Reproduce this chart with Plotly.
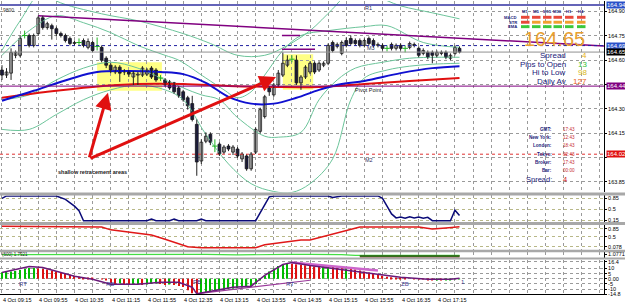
import plotly.graph_objects as go

W, H = 625, 306

# ---------------- price data: 5-minute bars, 4 Oct 09:15 .. 17:40 ----------------
opens = [164.539,164.508,164.520,164.630,164.630,164.752,164.752,164.691,164.764,164.861,
         164.801,164.813,164.794,164.764,164.752,164.734,164.703,164.709,164.721,164.679,
         164.709,164.685,164.679,164.612,164.569,164.527,164.557,164.533,164.527,164.496,
         164.508,164.508,164.514,164.551,164.539,164.490,164.478,164.466,164.460,164.429,
         164.405,164.368,164.332,164.204,163.978,164.100,164.143,164.070,164.082,164.033,
         164.070,164.033,164.052,163.991,164.009,163.930,164.033,164.161,164.252,164.429,
         164.386,164.447,164.508,164.569,164.606,164.600,164.460,164.496,164.527,164.581,
         164.539,164.569,164.581,164.709,164.685,164.642,164.721,164.734,164.721,164.721,
         164.691,164.734,164.721,164.691,164.691,164.673,164.697,164.673,164.691,164.673,
         164.679,164.697,164.673,164.642,164.648,164.648,164.630,164.648,164.648,164.612,
         164.642,164.673]
closes = [164.508,164.527,164.648,164.648,164.734,164.752,164.691,164.752,164.861,164.801,
          164.825,164.794,164.764,164.752,164.721,164.703,164.709,164.709,164.691,164.715,
          164.660,164.685,164.600,164.569,164.539,164.557,164.520,164.527,164.514,164.520,
          164.514,164.551,164.539,164.496,164.478,164.490,164.447,164.429,164.405,164.380,
          164.356,164.319,164.234,163.972,164.094,164.131,164.094,164.070,164.021,164.064,
          164.052,164.064,164.009,164.021,163.930,164.021,164.173,164.295,164.374,164.405,
          164.447,164.520,164.581,164.600,164.606,164.460,164.496,164.557,164.581,164.527,
          164.581,164.581,164.691,164.660,164.697,164.709,164.691,164.703,164.703,164.691,
          164.721,164.703,164.691,164.697,164.673,164.673,164.673,164.691,164.673,164.673,
          164.703,164.691,164.630,164.660,164.618,164.630,164.648,164.642,164.618,164.630,
          164.679,164.650]
highs = [164.569,164.551,164.673,164.660,164.752,164.782,164.764,164.764,164.874,164.874,
         164.837,164.825,164.807,164.776,164.764,164.746,164.721,164.734,164.734,164.734,
         164.721,164.740,164.691,164.624,164.581,164.569,164.569,164.545,164.539,164.533,
         164.527,164.563,164.551,164.563,164.551,164.508,164.490,164.478,164.466,164.441,
         164.417,164.380,164.380,164.234,164.112,164.155,164.155,164.112,164.094,164.076,
         164.082,164.076,164.064,164.033,164.021,164.033,164.185,164.307,164.386,164.441,
         164.460,164.539,164.648,164.630,164.630,164.630,164.508,164.569,164.593,164.593,
         164.593,164.593,164.703,164.721,164.709,164.721,164.740,164.752,164.734,164.734,
         164.734,164.746,164.734,164.709,164.703,164.691,164.709,164.703,164.703,164.691,
         164.715,164.709,164.685,164.673,164.660,164.660,164.660,164.660,164.660,164.642,
         164.691,164.685]
lows = [164.478,164.490,164.478,164.612,164.618,164.734,164.679,164.679,164.752,164.788,
        164.788,164.727,164.746,164.740,164.709,164.691,164.691,164.691,164.679,164.667,
        164.648,164.660,164.587,164.551,164.520,164.514,164.466,164.508,164.496,164.447,
        164.447,164.496,164.502,164.484,164.466,164.472,164.435,164.417,164.393,164.368,
        164.344,164.295,164.222,163.887,163.960,164.088,164.076,164.033,164.009,164.021,
        164.039,164.015,163.997,163.972,163.918,163.918,164.021,164.149,164.240,164.380,
        164.374,164.435,164.496,164.557,164.587,164.447,164.417,164.484,164.514,164.514,
        164.527,164.557,164.569,164.648,164.673,164.630,164.679,164.691,164.691,164.679,
        164.679,164.691,164.679,164.679,164.660,164.654,164.660,164.660,164.660,164.648,
        164.667,164.679,164.618,164.630,164.606,164.581,164.618,164.630,164.606,164.600,
        164.630,164.642]
bars = list(range(len(opens)))

time_label_bars = [0, 8, 16, 24, 32, 40, 48, 56, 64, 72, 80, 88, 96]
time_labels = ["4 Oct 09:15", "4 Oct 09:55", "4 Oct 10:35", "4 Oct 11:15", "4 Oct 11:55",
               "4 Oct 12:35", "4 Oct 13:15", "4 Oct 13:55", "4 Oct 14:35", "4 Oct 15:15",
               "4 Oct 15:55", "4 Oct 16:35", "4 Oct 17:15"]

# moving averages
blue_ma_bars = [0, 7, 15, 21, 28, 35, 40, 45, 50, 55, 60, 65, 70, 75, 80, 88, 95, 101]
blue_ma = [164.350, 164.411, 164.484, 164.527, 164.533, 164.527, 164.514, 164.460, 164.374,
           164.332, 164.332, 164.368, 164.417, 164.453, 164.472, 164.520, 164.551, 164.563]
red_ma_bars = [0, 10, 20, 30, 40, 50, 60, 70, 80, 90, 101]
red_ma = [164.368, 164.405, 164.435, 164.453, 164.453, 164.441, 164.435, 164.435, 164.453,
          164.472, 164.490]

# bollinger-style envelopes
outer_up_bars = [0, 4, 9, 12, 22, 30, 40, 46, 52, 58, 63, 68, 73, 76, 82, 88, 95, 101]
outer_up = [164.660, 164.843, 165.026, 164.965, 164.886, 164.843, 164.764, 164.703, 164.630, 164.630,
            164.691, 164.782, 164.916, 164.995, 164.995, 164.935, 164.892, 164.855]
outer_lo_bars = [0, 6, 12, 18, 24, 30, 36, 40, 45, 50, 55, 60, 64, 68, 73, 77, 80, 85, 90, 95, 101]
outer_lo = [164.173, 164.173, 164.265, 164.356, 164.417, 164.447, 164.417, 164.356, 164.143, 163.960,
            163.838, 163.790, 163.784, 163.838, 163.991, 164.356, 164.490, 164.539, 164.563, 164.575,
            164.581]
inner_up_bars = [0, 6, 12, 18, 24, 30, 36, 39, 45, 49, 52, 55, 58, 62, 66, 72, 80, 85, 93, 101]
inner_up = [164.630, 164.782, 164.874, 164.831, 164.770, 164.691, 164.630, 164.600, 164.490, 164.417,
            164.368, 164.405, 164.508, 164.660, 164.752, 164.782, 164.807, 164.813, 164.709, 164.679]
inner_lo_bars = [0, 6, 12, 18, 24, 30, 36, 40, 44, 48, 52, 58, 61, 66, 70, 74, 78, 84, 90, 96, 101]
inner_lo = [164.356, 164.386, 164.478, 164.551, 164.587, 164.551, 164.478, 164.429, 164.386, 164.356,
            164.246, 164.131, 164.125, 164.155, 164.356, 164.478, 164.551, 164.587, 164.612, 164.618,
            164.618]

# levels
r1_level = 164.94
ask_level = 164.69
bid_level = 164.65
pivot_level = 164.44
m2_level = 164.02
trend_bars = [8, 132.9]
trend_prices = [164.874, 164.688]
mark_bars = [[61.8, 65.8], [61.8, 69.1]]
mark_prices = [164.752, 164.667]

# retracement zones and arrows
zone_x0 = [21.0, 62.0]
zone_x1 = [35.3, 68.7]
zone_lo = [164.411, 164.417]
zone_hi = [164.587, 164.636]
arrow_tail = (19.2, 163.991)
arrow_tips = [(23.4, 164.399), (60.5, 164.496)]

# main price scale
price_ticks = [163.85, 164.00, 164.15, 164.30, 164.45, 164.60, 164.75, 164.90]
price_tick_text = ["163.85", "", "164.15", "164.30", "", "164.60", "164.75", "164.90"]

# indicator 1 (navy)
ind1_bars = [0, 1, 12, 14, 16, 17, 18, 32, 33, 34, 37, 38, 39, 43, 44, 45, 56, 57, 58, 59, 60,
             72, 73, 75, 83, 84, 85, 86, 87, 88, 89, 90, 91, 92, 93, 94, 95, 99, 100, 101]
ind1 = [0.85, 0.93, 0.93, 0.82, 0.60, 0.45, 0.13, 0.13, 0.18, 0.13, 0.13, 0.18, 0.13, 0.13, 0.18,
        0.13, 0.13, 0.40, 0.65, 0.90, 0.93, 0.93, 0.88, 0.93, 0.93, 0.85, 0.60, 0.35, 0.22, 0.25,
        0.21, 0.26, 0.22, 0.25, 0.21, 0.24, 0.13, 0.13, 0.47, 0.30]
# indicator 2 (red)
ind2_bars = [0, 22, 24, 33, 36, 41, 44, 56, 58, 66, 68, 79, 92, 95, 98, 101]
ind2 = [0.95, 0.92, 0.80, 0.58, 0.40, 0.08, 0.04, 0.04, 0.16, 0.37, 0.37, 0.92, 0.92, 0.84, 0.88, 0.93]
# indicator 3 (green)
ind3_bars = [0, 20, 30, 40, 45, 52, 58, 63, 68, 75, 78, 101]
ind3 = [1.075, 1.078, 1.082, 1.085, 1.080, 1.070, 1.068, 1.078, 1.080, 1.076, 1.060, 1.060]
ind3b_bars = [79, 101]
ind3b = [1.05, 1.05]
ind3c = [1.035, 1.035]
# indicator 4 (histogram + lines)
hist = [6, 6.5, 7, 7.5, 8.5, 9.5, 10.5,
        10.5, 10, 9.5, 9, 8, 7, 6, 5, 4, 3,
        2, 1.5, 1, 0.5, 0, -0.5, -1,
        -4, -5, -4.5, -5, -6, -5.5, -5, -6, -5.5, -5, -4.5, -5, -6, -5.5, -6, -7, -8,
        -11, -14, -15.5,
        -14, -13, -12, -11.5, -11, -10.5, -10, -9.5, -9, -8.5, -8, -7, -5,
        -1, 3, 7, 10, 12.5, 14, 15,
        14.5, 14, 13.5, 13, 12.5,
        12, 11.5, 11.8, 12.2, 11.6, 11, 10.5, 10.8, 10, 9, 8, 7, 6, 5, 4,
        3, 2, 1.5, 1, 0.5, 0.3, 0, -0.3, -0.5, -0.6, -0.8, -1, -1, -1.2, -1, -0.8, -0.6, -0.5]
ind4_bars = [0, 6, 9, 16, 20, 24, 30, 35, 39, 42, 43, 51, 55, 58, 62, 64, 68, 83, 88, 94, 99, 101]
ind4 = [6.2, 11.9, 11.0, 2.4, -0.5, -5.2, -5.2, -3.3, -3.3, -8.1, -14.5, -8.1, -7.1, 3.3, 13.8,
        15.7, 12.9, 4.3, 1.4, -0.5, -0.5, 0.5]
ind4_line_bars = [43, 68]
ind4_line = [-14.5, -1.4]
ind4_sig_bars = [64, 83]
ind4_sig = [15.7, 8.1]
ind4_labels = ["RT", "RB", "RB", "RT", "ZB", "1"]
ind4_label_bars = [4.6, 23.8, 43.0, 63.5, 88.9, 101.8]
ind4_label_vals = [-5.2, -5.2, -3.3, -5.2, -5.2, -3.3]

# dashboard
tf_names = ["M1", "M5", "M15", "M30", "H1", "H4"]
sig_rows = ["MACD", "STR", "EMA"]
sig_state = [["dn", "dn", "dn", "dn", "dn", "dn"],
             ["dn", "mid", "mid", "mid", "mid", "mid"],
             ["up", "up", "up", "up", "up", "up"]]
price_now = "164.65"
stat_names = ["Spread", "Pips to Open", "Hi to Low", "Daily Av"]
stat_values = ["4", "13", "98", "127"]
clock_names = ["GMT:", "New York:", "London:", "Tokyo:", "Broker:", "Bar:"]
clock_values = ["17:43", "12:43", "18:43", "02:43", "17:43", "00:00"]

# ---------------- figure ----------------
FONT = "Liberation Sans"
XD = 604 / W
NAVY = "#22227a"


def pxx(x):
    return x / W


def pxy(y):
    return (H - y) / H


fig = go.Figure()

# envelopes
for bx, by in [(outer_up_bars, outer_up), (outer_lo_bars, outer_lo),
               (inner_up_bars, inner_up), (inner_lo_bars, inner_lo)]:
    fig.add_trace(go.Scatter(x=bx, y=by, mode="lines", line=dict(color="#6cc49a", width=1, shape="spline"),
                             yaxis="y", hoverinfo="skip"))

# moving averages
fig.add_trace(go.Scatter(x=red_ma_bars, y=red_ma, mode="lines",
                         line=dict(color="#e01010", width=2, shape="spline"), yaxis="y"))
fig.add_trace(go.Scatter(x=blue_ma_bars, y=blue_ma, mode="lines",
                         line=dict(color="#1010d0", width=2, shape="spline"), yaxis="y"))

# trend line & marks
fig.add_trace(go.Scatter(x=trend_bars, y=trend_prices, mode="lines",
                         line=dict(color="#800080", width=1.5), yaxis="y"))
for bx, p in zip(mark_bars, mark_prices):
    fig.add_trace(go.Scatter(x=bx, y=[p, p], mode="lines", line=dict(color="#800080", width=1.5), yaxis="y"))

# candles
bull = [i for i in bars if closes[i] > opens[i]]
bear = [i for i in bars if closes[i] < opens[i]]
doji = [i for i in bars if closes[i] == opens[i]]


def wick_xy(idx):
    xs, ys = [], []
    for i in idx:
        xs += [i, i, None]
        ys += [highs[i], lows[i], None]
    return xs, ys


wx, wy = wick_xy(bull + bear)
fig.add_trace(go.Scatter(x=wx, y=wy, mode="lines", line=dict(color="#202020", width=1), yaxis="y"))
dx, dy = wick_xy(doji)
fig.add_trace(go.Scatter(x=dx, y=dy, mode="lines", line=dict(color="#22b422", width=1), yaxis="y"))
fig.add_trace(go.Scatter(x=doji, y=[closes[i] for i in doji], mode="markers",
                         marker=dict(symbol="line-ew", size=4, line=dict(color="#22b422", width=1)), yaxis="y"))
fig.add_trace(go.Bar(x=bull, y=[closes[i] - opens[i] for i in bull], base=[opens[i] for i in bull],
                     width=0.62, marker=dict(color="white", line=dict(color="#101010", width=0.8)), yaxis="y"))
fig.add_trace(go.Bar(x=bear, y=[opens[i] - closes[i] for i in bear], base=[closes[i] for i in bear],
                     width=0.62, marker=dict(color="#1a1a5e", line=dict(color="#101010", width=0.8)), yaxis="y"))

# indicator panels
fig.add_trace(go.Scatter(x=ind1_bars, y=ind1, mode="lines", line=dict(color="#0a0a78", width=1.5), yaxis="y2"))
fig.add_trace(go.Scatter(x=ind2_bars, y=ind2, mode="lines", line=dict(color="#e01818", width=1.5), yaxis="y3"))
fig.add_trace(go.Scatter(x=ind3_bars, y=ind3, mode="lines", line=dict(color="#44dd44", width=1.2), yaxis="y4"))
fig.add_trace(go.Scatter(x=ind3b_bars, y=ind3c, mode="lines", line=dict(color="#7a1010", width=3), yaxis="y4"))
fig.add_trace(go.Scatter(x=ind3b_bars, y=ind3b, mode="lines", line=dict(color="#1f8a1f", width=1.5), yaxis="y4"))
hist_col = ["#00bb00" if (i == 0 or hist[i] >= hist[i - 1]) else "#dd1111" for i in bars]
fig.add_trace(go.Bar(x=bars, y=hist, width=0.28, marker=dict(color=hist_col, line=dict(width=0)), yaxis="y5"))
fig.add_trace(go.Scatter(x=ind4_sig_bars, y=ind4_sig, mode="lines", line=dict(color="#cc66cc", width=2.5), yaxis="y5"))
fig.add_trace(go.Scatter(x=ind4_line_bars, y=ind4_line, mode="lines", line=dict(color="#9a3a9a", width=1.2), yaxis="y5"))
fig.add_trace(go.Scatter(x=ind4_bars, y=ind4, mode="lines", line=dict(color="#6a1a7a", width=1.5), yaxis="y5"))

shapes = []
# yellow zones
for x0, x1, lo, hi in zip(zone_x0, zone_x1, zone_lo, zone_hi):
    shapes.append(dict(type="rect", xref="x", yref="y", x0=x0, x1=x1, y0=lo, y1=hi,
                       fillcolor="#ffff70", opacity=0.85, line=dict(width=0), layer="below"))
# horizontal levels
shapes.append(dict(type="line", xref="paper", yref="y", x0=0, x1=XD, y0=r1_level, y1=r1_level,
                   line=dict(color="#3030a0", width=1.5)))
shapes.append(dict(type="line", xref="paper", yref="y", x0=0, x1=XD, y0=ask_level, y1=ask_level,
                   line=dict(color="#2020a0", width=1, dash="dot")))
shapes.append(dict(type="line", xref="paper", yref="y", x0=0, x1=XD, y0=bid_level, y1=bid_level,
                   line=dict(color="#909090", width=1)))
shapes.append(dict(type="line", xref="paper", yref="y", x0=0, x1=XD, y0=pivot_level, y1=pivot_level,
                   line=dict(color="#800080", width=1)))
shapes.append(dict(type="line", xref="paper", yref="y", x0=0, x1=XD, y0=m2_level, y1=m2_level,
                   line=dict(color="#e03030", width=1, dash="dot")))
# panel separators
for y0, y1 in [(194, 197), (224, 227), (252, 254.5), (260, 262)]:
    shapes.append(dict(type="rect", xref="paper", yref="paper", x0=0, x1=1, y0=pxy(y1), y1=pxy(y0),
                       fillcolor="#a8a8a8", line=dict(width=0)))

# dashboard colour cells
state_col = {"dn": "#e8483a", "mid": "#f0a030", "up": "#3cc83c"}
col_x = [521, 532, 543, 553.5, 565, 577]
row_y = [15, 20, 24.5]
for r, row in enumerate(sig_state):
    for c, st in enumerate(row):
        shapes.append(dict(type="rect", xref="paper", yref="paper", x0=pxx(col_x[c]), x1=pxx(col_x[c] + 8.5),
                           y0=pxy(row_y[r] + 3), y1=pxy(row_y[r]), fillcolor=state_col[st], line=dict(width=0)))

ann = []
# x-axis time labels
for b, t in zip(time_label_bars, time_labels):
    ann.append(dict(x=b, y=pxy(302.5), xref="x", yref="paper", text=t, showarrow=False, xanchor="left",
                    yanchor="middle", font=dict(size=5.5, family=FONT, color="black"), xshift=-1))
# price boxes
for lvl, bg in [(r1_level, "#2a50c8"), (ask_level, "#2a50c8"), (bid_level, "#000000"),
                (pivot_level, "#800080"), (m2_level, "#e01010")]:
    ann.append(dict(x=XD, y=lvl, xref="paper", yref="y", text=f"{lvl:.2f}", showarrow=False,
                    xanchor="left", yanchor="middle", bgcolor=bg, borderpad=0,
                    font=dict(size=6, family=FONT, color="white"), xshift=2))
# arrows
for tx, ty in arrow_tips:
    ann.append(dict(x=tx, y=ty, ax=arrow_tail[0], ay=arrow_tail[1], xref="x", yref="y", axref="x", ayref="y",
                    showarrow=True, arrowhead=2, arrowsize=1.1, arrowwidth=3, arrowcolor="#e01010", text=""))


# chart texts
def txt(x, y, s, size, color, anchor="center", bold=False):
    ann.append(dict(x=pxx(x), y=pxy(y), xref="paper", yref="paper", text=f"<b>{s}</b>" if bold else s,
                    showarrow=False, xanchor=anchor, yanchor="middle", borderpad=0,
                    font=dict(size=size, family=FONT, color=color)))


txt(93, 173, "shallow retracement areas", 5.5, "#202020", bold=True)
txt(2, 9, "9800", 5, "#303030", "left")
txt(368, 7.5, "R1", 5.5, "#303060")
txt(371, 48, "M3", 5.5, "#303060")
txt(368, 90, "Pivot Point", 5.5, "#202020")
txt(369, 161, "M2", 5.5, "#303060")
txt(1, 256.8, "(600) 1.7321", 4.5, "#202020", "left")

# dashboard texts
for c, n in enumerate(tf_names):
    txt(col_x[c] + 4.2, 10.5, n, 4.2, NAVY, bold=True)
for r, n in enumerate(sig_rows):
    txt(518, row_y[r] + 1.5, n, 4.2, NAVY, "right", bold=True)
txt(554, 38.5, price_now, 20, "#e8a030")
stat_cols = ["#e8b020", "#33c033", "#d8b818", "#e86020"]
for k, (n, v) in enumerate(zip(stat_names, stat_values)):
    yy = 55.5 + k * 8.6
    txt(567, yy, n, 8, NAVY, "right")
    txt(588, yy, v, 8, stat_cols[k], "right")
for k, (n, v) in enumerate(zip(clock_names, clock_values)):
    yy = 130 + k * 8.4
    txt(553, yy, n, 4.6, NAVY, "right", bold=True)
    txt(562, yy, v, 4.6, "#c83030", "left")
txt(553, 181, "Spread:", 7.5, NAVY, "right")
txt(562, 181, "4", 7.5, "#d02020", "left")

# panel-4 labels
for s, b, v in zip(ind4_labels, ind4_label_bars, ind4_label_vals):
    ann.append(dict(x=b, y=v, xref="x", yref="y5", text=s, showarrow=False, xanchor="center",
                    yanchor="middle", font=dict(size=6, family=FONT, color="#3a3a90")))

grid = dict(showgrid=True, gridcolor="#9a9a9a", griddash="dot", gridwidth=1, zeroline=False)
yax = dict(side="right", anchor="x", showline=True, linecolor="black", linewidth=1, ticks="outside",
           ticklen=2, tickcolor="black", tickfont=dict(size=5.5, family=FONT, color="black"), **grid)
lvl_grid = dict(yax, gridcolor="#b8b888")

fig.update_layout(
    width=W, height=H, margin=dict(l=0, r=0, t=0, b=0), autosize=False,
    paper_bgcolor="white", plot_bgcolor="white", showlegend=False, barmode="overlay",
    xaxis=dict(domain=[0, XD], range=[-0.44, 132.9], anchor="y5", tickmode="linear", tick0=0, dtick=4,
               showticklabels=False, ticks="", showline=True, linecolor="black", **grid),
    yaxis=dict(yax, domain=[pxy(194), 1.0], range=[163.784, 164.965], tickvals=price_ticks,
               ticktext=price_tick_text),
    yaxis2=dict(lvl_grid, domain=[pxy(224), pxy(197)], range=[0.086, 0.946], tickvals=[0.85, 0.5, 0.15],
                ticktext=["0.85", "0.5", "0.15"]),
    yaxis3=dict(lvl_grid, domain=[pxy(252), pxy(227)], range=[-0.048, 1.006], tickvals=[0.85, 0.5, 0.078],
                ticktext=["0.85", "0.5", "0.078"]),
    yaxis4=dict(yax, domain=[pxy(260), pxy(254.5)], range=[1.02, 1.12], tickvals=[1.0771],
                ticktext=["1.0771"], showgrid=False),
    yaxis5=dict(yax, domain=[pxy(297), pxy(262)], range=[-14.8, 18.6],
                tickvals=[16.4, 10, 5, 0, -5, -10, -14.8],
                ticktext=["16.4", "10", "5", "0.00", "-5", "-10", "-14.8"]),
    shapes=shapes, annotations=ann,
)

fig.write_html("out.html")
